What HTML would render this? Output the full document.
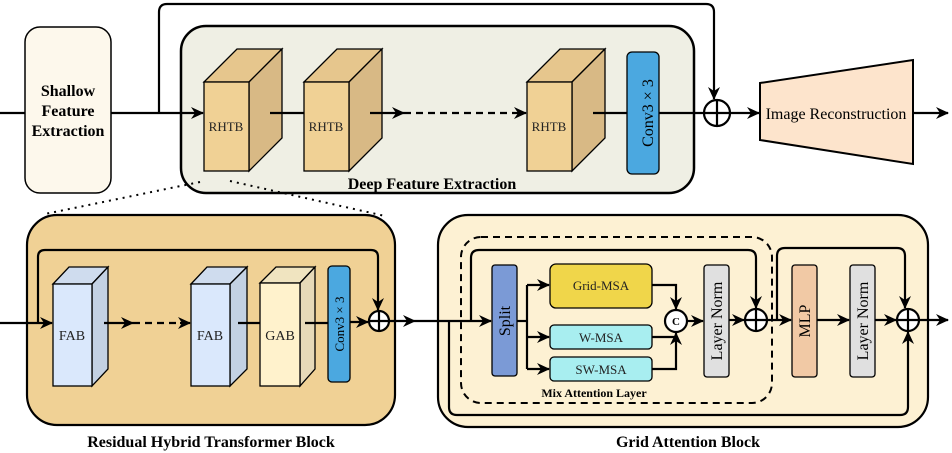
<!DOCTYPE html>
<html><head><meta charset="utf-8"><style>body{margin:0;background:#fff}svg{display:block}</style></head><body>
<svg width="952" height="453" viewBox="0 0 952 453" xmlns="http://www.w3.org/2000/svg" font-family="'Liberation Serif', 'DejaVu Serif', serif">
<defs><marker id="a" markerWidth="13" markerHeight="12" refX="12" refY="6" orient="auto" markerUnits="userSpaceOnUse"><path d="M0,0 L13,6 L0,12 L4,6 Z" fill="#000"/></marker></defs>
<g stroke="#000" fill="none" stroke-width="2.2">
<rect x="25" y="27" width="86" height="166" rx="15" fill="#fdf8ec" stroke-width="1.5"/>
<rect x="181" y="26" width="513" height="167" rx="25" fill="#efefe4" stroke-width="2.5"/>
<path d="M159,113 V12 Q159,4 167,4 H706 Q714,4 714,12 V99" marker-end="url(#a)"/>
<line x1="0" y1="113" x2="25" y2="113"/>
<line x1="111" y1="113" x2="203" y2="113" marker-end="url(#a)"/>
</g>
<g stroke="#000" stroke-width="1.3">
<polygon points="204,82 237,49 282,49 249,82" fill="#e6c68d"/><polygon points="249,82 282,49 282,138 249,171" fill="#d8b985"/><rect x="204" y="82" width="45" height="89" fill="#f0d195"/>
<polygon points="304,82 337,49 382,49 349,82" fill="#e6c68d"/><polygon points="349,82 382,49 382,138 349,171" fill="#d8b985"/><rect x="304" y="82" width="45" height="89" fill="#f0d195"/>
<polygon points="527,82 560,49 605,49 572,82" fill="#e6c68d"/><polygon points="572,82 605,49 605,138 572,171" fill="#d8b985"/><rect x="527" y="82" width="45" height="89" fill="#f0d195"/>
<rect x="627" y="52" width="32" height="122" rx="5" fill="#4ba8e0"/>
<polygon points="760,83 913,60 913,164 760,140" fill="#fde4cc" stroke-width="2"/>
</g>
<g stroke="#000" fill="none" stroke-width="2.2">
<line x1="270" y1="113" x2="304" y2="113"/>
<line x1="370" y1="113" x2="404" y2="113" marker-end="url(#a)"/>
<line x1="404" y1="113" x2="515" y2="113" stroke-dasharray="7,5"/>
<line x1="515" y1="113" x2="526" y2="113" marker-end="url(#a)"/>
<line x1="593" y1="113" x2="627" y2="113"/>
<line x1="659" y1="113" x2="704" y2="113"/>
<circle cx="717" cy="113" r="13" fill="#fff"/><line x1="704" y1="113" x2="730" y2="113"/><line x1="717" y1="100" x2="717" y2="126"/>
<line x1="730" y1="113" x2="759" y2="113" marker-end="url(#a)"/>
<line x1="913" y1="113" x2="948" y2="113" marker-end="url(#a)"/>
<line x1="200" y1="182" x2="45" y2="214" stroke-dasharray="2,5" stroke-width="2"/>
<line x1="230" y1="181" x2="385" y2="216" stroke-dasharray="2,5" stroke-width="2"/>
</g>
<g font-size="16" font-weight="bold" text-anchor="middle"><text x="68" y="96">Shallow</text><text x="68" y="116">Feature</text><text x="68" y="136">Extraction</text>
<text x="432" y="189">Deep Feature Extraction</text>
<text x="211" y="447">Residual Hybrid Transformer Block</text>
<text x="688" y="447">Grid Attention Block</text></g>
<g font-size="13" text-anchor="middle" fill="#222"><text x="226" y="131">RHTB</text><text x="326" y="131">RHTB</text><text x="549" y="131">RHTB</text></g>
<text x="648" y="118" font-size="16" text-anchor="middle" transform="rotate(-90 648 113)">Conv3 × 3</text>
<text x="836" y="119" font-size="16" text-anchor="middle">Image Reconstruction</text>

<rect x="27" y="215" width="368" height="210" rx="30" fill="#f0d195" stroke="#000" stroke-width="2.2"/>
<g stroke="#000" stroke-width="1.3">
<polygon points="53,284 69,267 108,267 92,284" fill="#cfdcee"/><polygon points="92,284 108,267 108,369 92,386" fill="#c3d1e3"/><rect x="53" y="284" width="39" height="102" fill="#dae8fc"/>
<polygon points="191,284 207,267 247,267 230,284" fill="#cfdcee"/><polygon points="230,284 247,267 247,369 230,386" fill="#c3d1e3"/><rect x="191" y="284" width="39" height="102" fill="#dae8fc"/>
<polygon points="260,283 276,267 315,267 300,283" fill="#f0e4c0"/><polygon points="300,283 315,267 315,369 300,386" fill="#e6d9b8"/><rect x="260" y="283" width="40" height="103" fill="#fff2cc"/>
<rect x="328" y="266" width="22" height="116" rx="4" fill="#4ba8e0"/>
</g>
<g stroke="#000" fill="none" stroke-width="2.2">
<path d="M38,323 V257 Q38,250 45,250 H371 Q378,250 378,257 V310" marker-end="url(#a)"/>
<line x1="0" y1="323" x2="52" y2="323" marker-end="url(#a)"/>
<line x1="104" y1="323" x2="133" y2="323" marker-end="url(#a)"/>
<line x1="133" y1="323" x2="180" y2="323" stroke-dasharray="7,5"/>
<line x1="180" y1="323" x2="190" y2="323" marker-end="url(#a)"/>
<line x1="238" y1="323" x2="260" y2="323"/>
<line x1="305" y1="323" x2="328" y2="323"/>
<line x1="350" y1="322" x2="368" y2="322" marker-end="url(#a)"/>
<circle cx="379" cy="321" r="10" fill="#fff"/><line x1="369" y1="321" x2="389" y2="321"/><line x1="379" y1="311" x2="379" y2="331"/>
<line x1="389" y1="321" x2="415" y2="321" marker-end="url(#a)"/>
</g>
<g font-size="14" text-anchor="middle" fill="#222"><text x="72" y="340">FAB</text><text x="210" y="340">FAB</text><text x="280" y="340">GAB</text></g>
<text x="339" y="329" font-size="13" text-anchor="middle" transform="rotate(-90 339 324)">Conv3 × 3</text>

<rect x="438" y="215" width="490" height="212" rx="30" fill="#fdf1d3" stroke="#000" stroke-width="2.2"/>
<rect x="461" y="237" width="311" height="166" rx="20" fill="none" stroke="#000" stroke-width="2" stroke-dasharray="7,5"/>
<g stroke="#000" stroke-width="1.3">
<rect x="492" y="265" width="25" height="111" rx="3" fill="#7b9ad6"/>
<rect x="550" y="264" width="102" height="44" rx="6" fill="#f0d64a"/>
<rect x="550" y="325" width="102" height="24" rx="4" fill="#a8eef0"/>
<rect x="550" y="357" width="102" height="24" rx="4" fill="#a8eef0"/>
<rect x="704" y="265" width="25" height="112" rx="3" fill="#e0e0e0"/>
<rect x="792" y="265" width="25" height="112" rx="3" fill="#f1c9a5"/>
<rect x="850" y="265" width="25" height="112" rx="3" fill="#e0e0e0"/>
</g>
<g stroke="#000" fill="none" stroke-width="2.2">
<line x1="415" y1="321" x2="491" y2="321" marker-end="url(#a)"/>
<path d="M471,321 V258 Q471,250 479,250 H748 Q756,250 756,258 V308" marker-end="url(#a)"/>
<path d="M449,321 V407 Q449,415 457,415 H900 Q908,415 908,407 V332" marker-end="url(#a)"/>
<line x1="517" y1="321" x2="527" y2="321"/>
<path d="M527,369 V285"/>
<line x1="527" y1="285" x2="549" y2="285" marker-end="url(#a)"/>
<line x1="527" y1="337" x2="549" y2="337" marker-end="url(#a)"/>
<line x1="527" y1="369" x2="549" y2="369" marker-end="url(#a)"/>
<path d="M652,285 H676 V309" marker-end="url(#a)"/>
<path d="M652,337 H676"/>
<path d="M652,369 H676 V333" marker-end="url(#a)"/>
<circle cx="676" cy="321" r="11" fill="#fff"/>
<line x1="687" y1="321" x2="703" y2="321" marker-end="url(#a)"/>
<line x1="729" y1="320" x2="744" y2="320" marker-end="url(#a)"/>
<circle cx="756" cy="320" r="11" fill="#fff"/><line x1="745" y1="320" x2="767" y2="320"/><line x1="756" y1="309" x2="756" y2="331"/>
<line x1="767" y1="320" x2="791" y2="320" marker-end="url(#a)"/>
<path d="M777,320 V256 Q777,248 785,248 H897 Q905,248 905,256 V308" marker-end="url(#a)"/>
<line x1="817" y1="320" x2="849" y2="320" marker-end="url(#a)"/>
<line x1="875" y1="320" x2="896" y2="320" marker-end="url(#a)"/>
<circle cx="908" cy="320" r="11" fill="#fff"/><line x1="897" y1="320" x2="919" y2="320"/><line x1="908" y1="309" x2="908" y2="331"/>
<line x1="919" y1="320" x2="948" y2="320" marker-end="url(#a)"/>
</g>
<text x="676" y="325" font-size="11" font-weight="bold" text-anchor="middle">C</text>
<g font-size="13" text-anchor="middle" fill="#222"><text x="601" y="290">Grid-MSA</text><text x="601" y="342">W-MSA</text><text x="601" y="374">SW-MSA</text></g>
<g font-size="16" text-anchor="middle"><text x="505" y="326" transform="rotate(-90 505 321)">Split</text><text x="717" y="326" transform="rotate(-90 717 321)">Layer Norm</text><text x="805" y="326" transform="rotate(-90 805 321)">MLP</text><text x="863" y="326" transform="rotate(-90 863 321)">Layer Norm</text></g>
<text x="594" y="397" font-size="12" font-weight="bold" text-anchor="middle">Mix Attention Layer</text>
</svg>
</body></html>
